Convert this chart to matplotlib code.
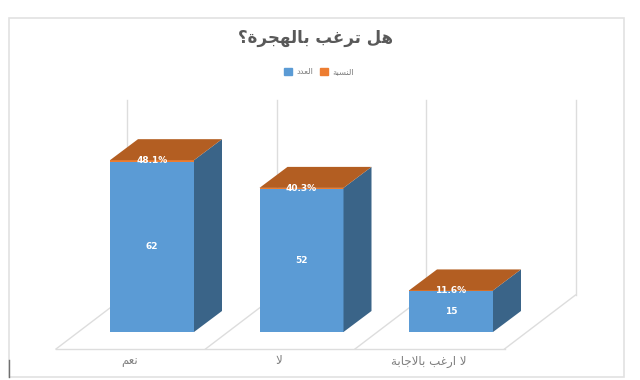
import matplotlib
matplotlib.use("Agg")
import matplotlib.pyplot as plt
from matplotlib.patches import Polygon, Rectangle

categories = ["نعم", "لا", "لا ارغب بالاجابة"]
counts = [62, 52, 15]
percents = [48.1, 40.3, 11.6]
series_names = ["العدد", "النسبة"]
title_text = "هل ترغب بالهجرة؟"

FORMS = {
    "ا": (0xFE8D, 0xFE8E), "ب": (0xFE8F, 0xFE90, 0xFE91, 0xFE92), "ة": (0xFE93, 0xFE94),
    "ت": (0xFE95, 0xFE96, 0xFE97, 0xFE98), "ج": (0xFE9D, 0xFE9E, 0xFE9F, 0xFEA0),
    "د": (0xFEA9, 0xFEAA), "ر": (0xFEAD, 0xFEAE), "س": (0xFEB1, 0xFEB2, 0xFEB3, 0xFEB4),
    "ع": (0xFEC9, 0xFECA, 0xFECB, 0xFECC), "غ": (0xFECD, 0xFECE, 0xFECF, 0xFED0),
    "ل": (0xFEDD, 0xFEDE, 0xFEDF, 0xFEE0), "م": (0xFEE1, 0xFEE2, 0xFEE3, 0xFEE4),
    "ن": (0xFEE5, 0xFEE6, 0xFEE7, 0xFEE8), "ه": (0xFEE9, 0xFEEA, 0xFEEB, 0xFEEC),
}


def shape(text):
    """Contextual Arabic shaping, returned in visual (left-to-right) order."""
    out = []
    i = 0
    while i < len(text):
        c = text[i]
        if c not in FORMS:
            out.append(c)
            i += 1
            continue
        prev = text[i - 1] if i else ""
        joins_prev = prev in FORMS and len(FORMS[prev]) == 4
        if c == "ل" and i + 1 < len(text) and text[i + 1] == "ا":
            out.append(chr(0xFEFC if joins_prev else 0xFEFB))
            i += 2
            continue
        nxt = text[i + 1] if i + 1 < len(text) else ""
        f = FORMS[c]
        joins_next = len(f) == 4 and nxt in FORMS
        if joins_prev and joins_next:
            out.append(chr(f[3]))
        elif joins_prev:
            out.append(chr(f[1]))
        elif joins_next:
            out.append(chr(f[2]))
        else:
            out.append(chr(f[0]))
        i += 1
    return "".join(reversed(out))


BLUE, BLUE_SIDE = "#5B9BD5", "#3A6488"
ORANGE, ORANGE_TOP = "#ED7D31", "#B35E22"
GRID = "#DDDDDD"
TXT = "#7F7F7F"

W, H = 640, 380
CAT_PX = 149.5          # pixels per category
VAL_PX = 2.75           # pixels per value unit
X0_PX, Y0_PX = 152, 332 # pixel position of category 0 / value 0
BAR_W = 84 / CAT_PX
DX_BAR, DY_BAR = 28 / CAT_PX, 21 / VAL_PX
DX_FLOOR, DY_FLOOR = 71 / CAT_PX, 54 / VAL_PX
FRONT_Y = (Y0_PX - 349) / VAL_PX
LEFT = (56 - X0_PX) / CAT_PX
WALL_TOP = (Y0_PX - 100) / VAL_PX

fig = plt.figure(figsize=(W / 100, H / 100), dpi=100, facecolor="white")
ax = fig.add_axes([0, 0, 1, 1])
ax.set_xlim(-X0_PX / CAT_PX, (W - X0_PX) / CAT_PX)
ax.set_ylim((Y0_PX - H) / VAL_PX, Y0_PX / VAL_PX)
ax.axis("off")

# chart frame (in pixel fractions of the figure)
fig.add_artist(Rectangle((8.5 / W, 1 - 376.5 / H), 615 / W, 359 / H, fill=False,
                         ec="#E2E2E2", lw=1.2, transform=fig.transFigure))
fig.add_artist(plt.Line2D([8.5 / W, 8.5 / W], [1 - 377 / H, 1 - 360 / H], color="#707070",
                          lw=1, transform=fig.transFigure))

# floor and walls
n = len(categories)
for i in range(n + 1):
    x = LEFT + i
    ax.plot([x, x + DX_FLOOR], [FRONT_Y, FRONT_Y + DY_FLOOR], color=GRID, lw=1, zorder=1)
    ax.plot([x + DX_FLOOR] * 2, [FRONT_Y + DY_FLOOR, WALL_TOP], color=GRID, lw=1, zorder=1)
ax.plot([LEFT, LEFT + n], [FRONT_Y, FRONT_Y], color=GRID, lw=1, zorder=1)

# 3-D stacked bars: the percentage share (as a fraction) sits on top of the count
for i, (c, p) in enumerate(zip(counts, percents)):
    h = p / 100
    l, r = i - BAR_W / 2, i + BAR_W / 2
    t = c + h
    ax.bar(i, c, BAR_W, color=BLUE, lw=0, zorder=3)
    ax.bar(i, h, BAR_W, bottom=c, color=ORANGE, lw=0, zorder=3)
    ax.add_patch(Polygon([(r, 0), (r + DX_BAR, DY_BAR), (r + DX_BAR, t + DY_BAR), (r, t)],
                         color=BLUE_SIDE, lw=0, zorder=3))
    ax.add_patch(Polygon([(l, t), (r, t), (r + DX_BAR, t + DY_BAR), (l + DX_BAR, t + DY_BAR)],
                         color=ORANGE_TOP, lw=0, zorder=3))
    ax.text(i, c / 2, str(c), color="white", fontsize=6.5, fontweight="bold",
            ha="center", va="center", zorder=4)
    ax.text(i, c + h / 2, f"{p:.1f}%", color="white", fontsize=6.5, fontweight="bold",
            ha="center", va="center", zorder=4)
    ax.text(LEFT + i + 0.49, FRONT_Y - 12 / VAL_PX, shape(categories[i]), color=TXT,
            fontsize=8.5, ha="center", va="center", zorder=4)

fig.text(315 / W, 1 - 38 / H, shape(title_text), color="#595959", fontsize=12,
         fontweight="bold", ha="center", va="center", family="DejaVu Sans")

handles = [Rectangle((0, 0), 1, 1, color=BLUE), Rectangle((0, 0), 1, 1, color=ORANGE)]
fig.legend(handles, [shape(s) for s in series_names], ncol=2, frameon=False,
           loc="center", bbox_to_anchor=(319 / W, 1 - 72 / H), fontsize=6,
           labelcolor=TXT, handlelength=0.9, handleheight=0.9, handletextpad=0.5,
           columnspacing=0.9, borderpad=0)

fig.savefig("out.png", dpi=100)
